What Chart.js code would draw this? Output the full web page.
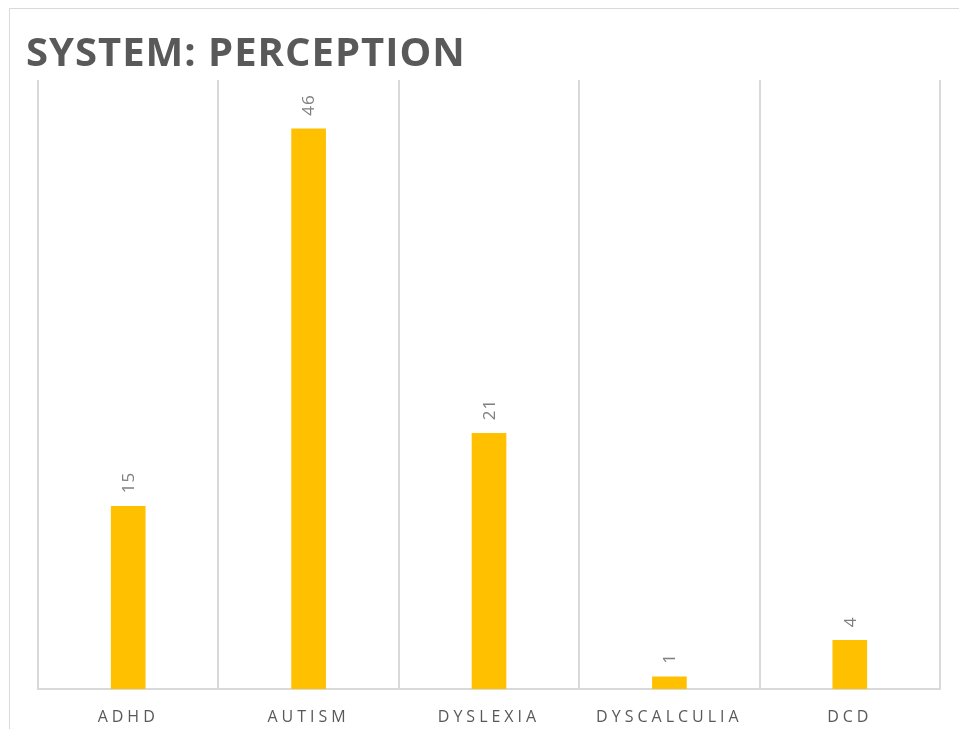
<!DOCTYPE html>
<html>
<head>
<meta charset="utf-8">
<script src="https://cdn.jsdelivr.net/npm/chart.js@4/dist/chart.umd.min.js"></script>
<style>
  html, body { margin: 0; padding: 0; background: #ffffff; overflow: hidden; }
  #wrap { position: absolute; left: 0; top: 0; width: 959px; height: 729px; }
</style>
</head>
<body>
<div id="wrap"><canvas id="c" width="959" height="729"></canvas></div>
<script>
const titleText = 'SYSTEM: PERCEPTION';
const categories = ['ADHD', 'AUTISM', 'DYSLEXIA', 'DYSCALCULIA', 'DCD'];
const values = [15, 46, 21, 1, 4];
const yMax = 50;

const framePlugin = {
  id: 'frame',
  beforeDraw(chart) {
    const ctx = chart.ctx;
    ctx.save();
    ctx.letterSpacing = '0px';
    ctx.fillStyle = '#ffffff';
    ctx.fillRect(0, 0, chart.width, chart.height);
    ctx.strokeStyle = '#d9d9d9';
    ctx.lineWidth = 1;
    ctx.beginPath();
    ctx.moveTo(9.5, chart.height);
    ctx.lineTo(9.5, 8.5);
    ctx.lineTo(chart.width, 8.5);
    ctx.stroke();
    ctx.restore();
    ctx.letterSpacing = '1px';
  },
  afterDatasetsDraw(chart) {
    const ctx = chart.ctx;
    ctx.letterSpacing = '0px';
    const meta = chart.getDatasetMeta(0);
    ctx.save();
    ctx.fillStyle = '#7f7f7f';
    ctx.font = '17px "Open Sans"';
    ctx.textAlign = 'left';
    ctx.textBaseline = 'middle';
    meta.data.forEach((bar, i) => {
      ctx.save();
      ctx.translate(bar.x, bar.y - 13);
      ctx.rotate(-Math.PI / 2);
      ctx.letterSpacing = '1px';
      ctx.fillText(String(values[i]), 0, 1);
      ctx.restore();
    });
    ctx.restore();
    ctx.letterSpacing = '4px';
  },
  afterDraw(chart) {
    chart.ctx.letterSpacing = '0px';
  }
};

new Chart(document.getElementById('c'), {
  type: 'bar',
  data: {
    labels: categories,
    datasets: [{
      data: values,
      backgroundColor: '#FFC000',
      borderWidth: 0,
      barThickness: 34
    }]
  },
  options: {
    responsive: false,
    animation: false,
    events: [],
    layout: { padding: { left: 26, right: 19, top: 31, bottom: 2 } },
    plugins: {
      legend: { display: false },
      tooltip: { enabled: false },
      title: {
        display: true,
        text: titleText,
        align: 'start',
        color: '#595959',
        font: { family: '"Open Sans"', size: 40, weight: 'bold', lineHeight: 1.2 },
        padding: { top: 0, bottom: 1 }
      }
    },
    scales: {
      x: {
        offset: true,
        grid: { display: true, offset: true, color: '#d9d9d9', lineWidth: 2, drawTicks: false },
        border: { display: true, color: '#d9d9d9', width: 2 },
        ticks: {
          z: 1,
          color: '#595959',
          padding: 19,
          maxRotation: 0,
          font: { family: '"Open Sans"', size: 16 }
        },
        afterFit(scale) { scale.height = 38; }
      },
      y: {
        min: 0,
        max: yMax,
        display: true,
        grid: { display: false },
        border: { display: false },
        ticks: { display: false },
        afterFit(scale) { scale.width = 12; }
      }
    }
  },
  plugins: [framePlugin]
});
</script>
</body>
</html>
